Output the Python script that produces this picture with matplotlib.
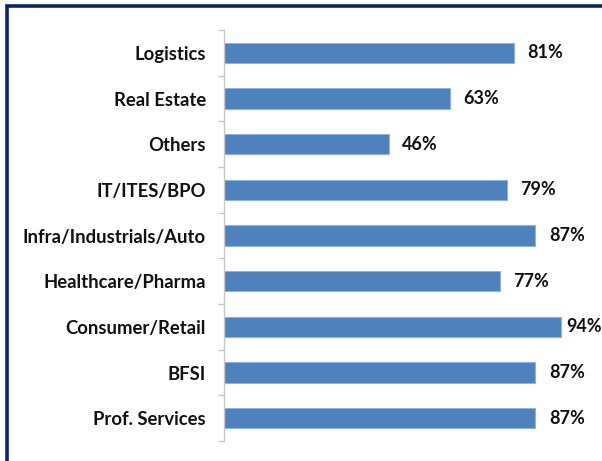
import matplotlib
matplotlib.use("Agg")
import matplotlib.pyplot as plt
from matplotlib.patches import Rectangle
import numpy as np

# data, top to bottom as shown
categories = ["Logistics", "Real Estate", "Others", "IT/ITES/BPO",
              "Infra/Industrials/Auto", "Healthcare/Pharma", "Consumer/Retail",
              "BFSI", "Prof. Services"]
values = [81, 63, 46, 79, 87, 77, 94, 87, 87]
labels = ["81%", "63%", "46%", "79%", "87%", "77%", "94%", "87%", "87%"]

plt.rcParams['font.family'] = ['Lato', 'DejaVu Sans']

fig = plt.figure(figsize=(6.02, 4.61), dpi=100)
ax = fig.add_axes([224 / 602, 20 / 461, 358 / 602, 411 / 461])

n = len(categories)
y = np.arange(n)[::-1]
ax.barh(y, values, height=0.44, color="#4F81BD", edgecolor="#8DB3E2", linewidth=0.8)

# labels sit right of the bar, pulled in if they'd run off the chart
for yi, v, lab in zip(y, values, labels):
    ax.text(min(v + 3.8, 95.5), yi, lab, va="center", ha="left", fontsize=13,
            fontweight="bold", color="#111111", clip_on=False)

ax.set_xlim(0, 100)
ax.set_ylim(-0.5, n - 0.5)
ax.set_yticks(y)
ax.set_yticklabels(categories, fontsize=13.3, fontweight="bold", color="#111111")
ax.tick_params(axis="y", which="major", length=0, pad=13)
ax.set_yticks(np.arange(-0.5, n, 1.0), minor=True)
ax.tick_params(axis="y", which="minor", length=4, color="#C8C8C8", width=1)
ax.set_xticks([])

for s in ["top", "right", "bottom"]:
    ax.spines[s].set_visible(False)
ax.spines["left"].set_color("#C8C8C8")
ax.spines["left"].set_linewidth(1)

# dark navy frame around the whole chart (clipped on right/bottom)
frame = Rectangle((6.5 / 602, -0.05), 1.2, 1.05 - 6.5 / 461, transform=fig.transFigure,
                  fill=False, edgecolor="#0E2466", linewidth=2.6, clip_on=False)
fig.patches.append(frame)

fig.savefig("out.png", dpi=100)
